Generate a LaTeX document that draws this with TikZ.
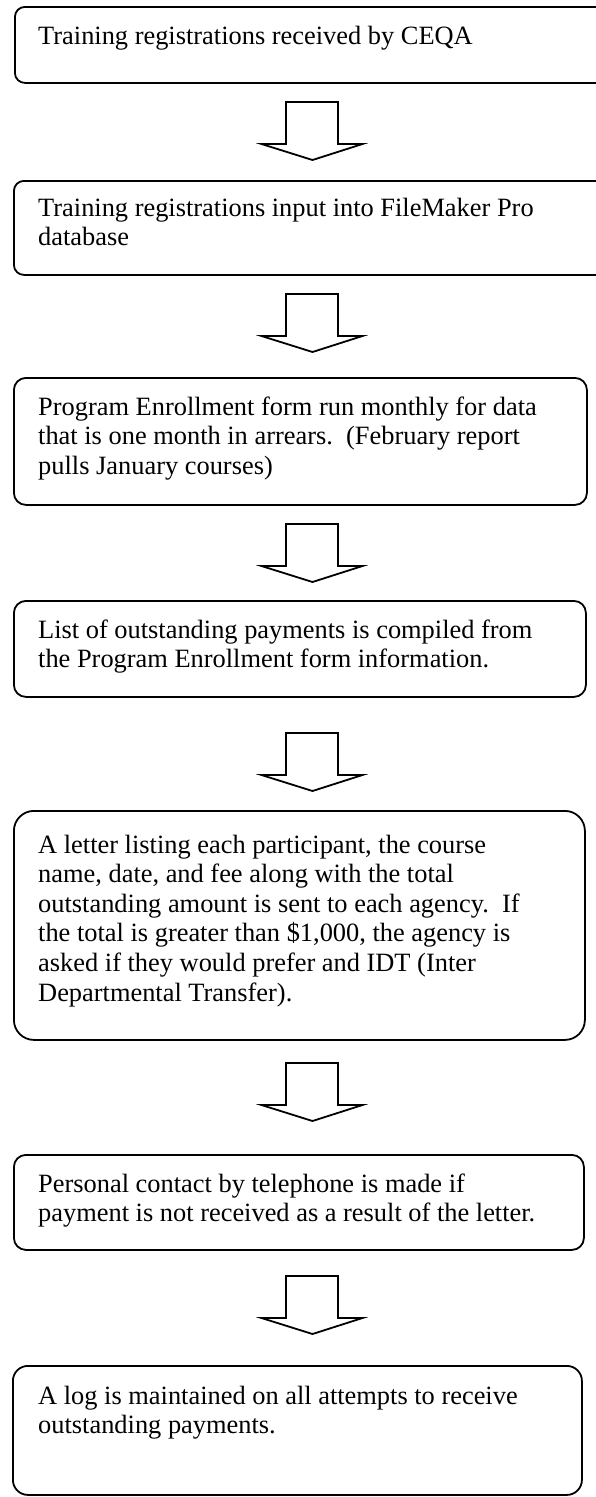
\documentclass[tikz,border=0pt]{standalone}
\usepackage{fontspec}
\setmainfont{Liberation Serif}
\usetikzlibrary{calc}

% left-aligned block of lines whose baseline is that of its first line
\newcommand{\steplines}[1]{\begin{tabular}[t]{@{}l@{}}#1\end{tabular}}

\tikzset{
  stepbox/.style={draw=black, line width=1.8pt, fill=white, inner sep=0pt,
                  anchor=north west, rounded corners=#1},
  stepbox/.default=11pt,
  steptext/.style={anchor=base west, inner sep=0pt,
                   font=\fontsize{26.4pt}{29.6pt}\selectfont},
  blockarrow/.style={draw=black, line width=1.8pt, fill=white, line join=miter},
  pics/downarrow/.style={code={
    \draw[blockarrow] (-26,0) -- (26,0) -- (26,42) -- (50.5,42) -- (0.5,58)
                      -- (-50.5,42) -- (-26,42) -- cycle;
  }}
}

\begin{document}
\begin{tikzpicture}[x=1pt, y=-1pt]
  \useasboundingbox (0,0) rectangle (596,1497);

  % process steps
  \node[stepbox=10pt, minimum width=591pt, minimum height=76pt]  (b1) at (14,6)    {};
  \node[stepbox=10pt, minimum width=592pt, minimum height=94pt]  (b2) at (13,180)  {};
  \node[stepbox=12pt, minimum width=573pt, minimum height=127pt] (b3) at (13,377)  {};
  \node[stepbox=12pt, minimum width=572pt, minimum height=96pt]  (b4) at (13,600)  {};
  \node[stepbox=20pt, minimum width=571pt, minimum height=229pt] (b5) at (13,810)  {};
  \node[stepbox=12pt, minimum width=570pt, minimum height=95pt]  (b6) at (13,1154) {};
  \node[stepbox=15pt, minimum width=569pt, minimum height=129pt] (b7) at (12,1365) {};

  % step texts
  \node[steptext] (t1) at ($(b1.north west)+(24,38)$)
    {\steplines{Training registrations received by CEQA}};
  \node[steptext] (t2) at ($(b2.north west)+(25,36)$)
    {\steplines{Training registrations input into FileMaker Pro\\
                database}};
  \node[steptext] (t3) at ($(b3.north west)+(25,38)$)
    {\steplines{Program Enrollment form run monthly for data\\
                that is one month in arrears.\ \ (February report\\
                pulls January courses)}};
  \node[steptext] (t4) at ($(b4.north west)+(25,38)$)
    {\steplines{List of outstanding payments is compiled from\\
                the Program Enrollment form information.}};
  \node[steptext] (t5) at ($(b5.north west)+(25,43)$)
    {\steplines{A letter listing each participant, the course\\
                name, date, and fee along with the total\\
                outstanding amount is sent to each agency.\ \ If\\
                the total is greater than \$1,000, the agency is\\
                asked if they would prefer and IDT (Inter\\
                Departmental Transfer).}};
  \node[steptext] (t6) at ($(b6.north west)+(25,38)$)
    {\steplines{Personal contact by telephone is made if\\
                payment is not received as a result of the letter.}};
  \node[steptext] (t7) at ($(b7.north west)+(26,39)$)
    {\steplines{A log is maintained on all attempts to receive\\
                outstanding payments.}};

  % block arrows between the steps
  \coordinate (a1) at (312,102);
  \coordinate (a2) at (312,294);
  \coordinate (a3) at (312,524);
  \coordinate (a4) at (312,733);
  \coordinate (a5) at (312,1063);
  \coordinate (a6) at (312,1276);
  \foreach \a in {a1,a2,a3,a4,a5,a6} { \pic at (\a) {downarrow}; }
\end{tikzpicture}
\end{document}
